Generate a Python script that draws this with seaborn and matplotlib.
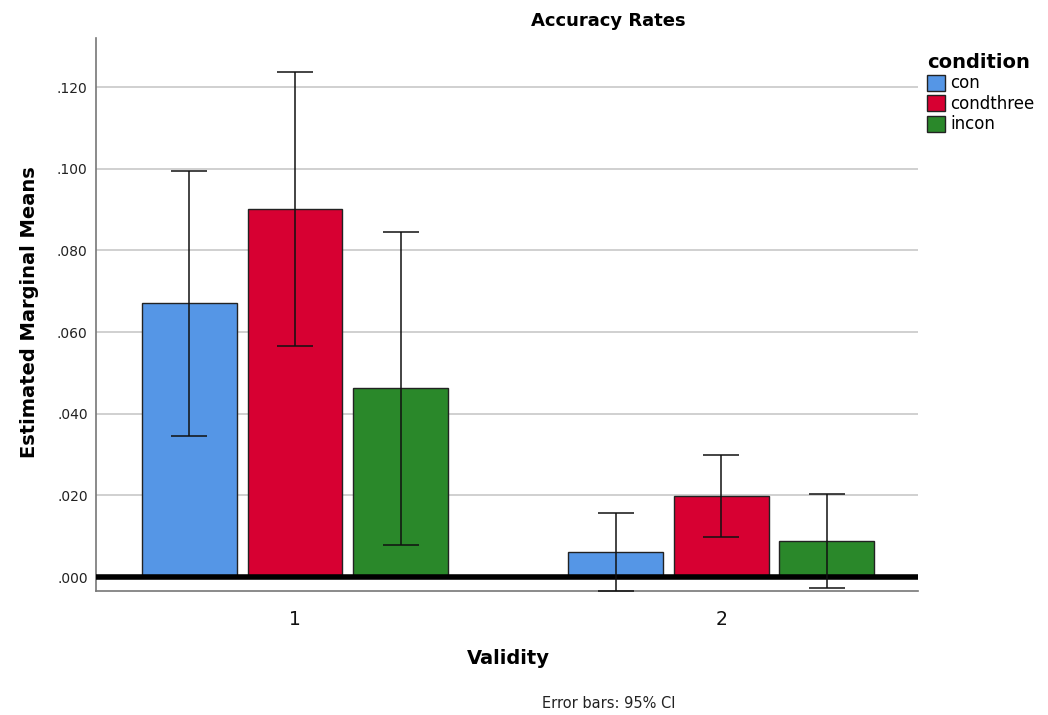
import matplotlib
matplotlib.use("Agg")
import matplotlib.pyplot as plt
import seaborn as sns
import pandas as pd
import numpy as np
from matplotlib.ticker import FuncFormatter
from matplotlib.patches import Patch

validity = ["1", "1", "1", "2", "2", "2"]
condition = ["con", "condthree", "incon", "con", "condthree", "incon"]
means = [0.0671, 0.0901, 0.0463, 0.0061, 0.0198, 0.0088]
ci_low = [0.0345, 0.0565, 0.0078, -0.0034, 0.0098, -0.0027]
ci_high = [0.0994, 0.1236, 0.0845, 0.0157, 0.0299, 0.0203]
hue_order = ["con", "condthree", "incon"]
colors = ["#5596E6", "#D70032", "#2A882A"]
yticks = [0.0, 0.02, 0.04, 0.06, 0.08, 0.10, 0.12]

df = pd.DataFrame({"Validity": validity, "condition": condition, "mean": means,
                   "lo": ci_low, "hi": ci_high})

sns.set_style("white")
plt.rcParams['font.family'] = ['DejaVu Sans']
plt.rcParams['text.color'] = 'black'

fig = plt.figure(figsize=(10.48, 7.15), dpi=100)
ax = fig.add_axes([96/1048, 1 - 591/715, (918-96)/1048, (591-38)/715])

pal = dict(zip(hue_order, colors))
sns.barplot(data=df, x="Validity", y="mean", hue="condition", hue_order=hue_order,
            palette=pal, width=0.743, gap=0.1, edgecolor="#222222", linewidth=1.0,
            errorbar=None, legend=False, ax=ax, saturation=1)

# error bars at bar centers
for cont, cond in zip(ax.containers, hue_order):
    sub = df[df["condition"] == cond]
    for patch, (_, row) in zip(cont.patches, sub.iterrows()):
        xc = patch.get_x() + patch.get_width() / 2
        ax.errorbar([xc], [row["mean"]],
                    yerr=[[row["mean"] - row["lo"]], [row["hi"] - row["mean"]]],
                    fmt="none", ecolor="#111111", elinewidth=1.1, capsize=13,
                    capthick=1.1, zorder=5)

ax.set_xlim(-0.467, 1.462)
ax.set_ylim(-0.0034, 0.132)
ax.set_yticks(yticks)
ax.yaxis.set_major_formatter(FuncFormatter(lambda v, p: f"{v:.3f}".replace("0.", ".", 1) if v >= 0 else f"{v:.3f}"))
ax.grid(axis="y", color="#c8c8c8", linewidth=1.2, zorder=0)
ax.set_axisbelow(True)
ax.axhline(0, color="black", linewidth=4, zorder=4)
for s in ["top", "right"]:
    ax.spines[s].set_visible(False)
ax.spines["left"].set_color("#777777")
ax.spines["bottom"].set_color("#777777")
ax.spines["left"].set_linewidth(1.2)
ax.spines["bottom"].set_linewidth(1.2)
ax.tick_params(axis="y", length=0, labelsize=10, colors="#222222", pad=6)
ax.tick_params(axis="x", length=0, labelsize=13.5, colors="#111111", pad=14)
ax.set_xlabel("")
ax.set_ylabel("")

fig.text(608/1048, 1 - 21/715, "Accuracy Rates", ha="center", va="center",
         fontsize=13, fontweight="bold", color="black")
fig.text(30/1048, 1 - 312/715, "Estimated Marginal Means", ha="center", va="center",
         rotation=90, fontsize=14, fontweight="bold", color="black")
fig.text(508/1048, 1 - 659/715, "Validity", ha="center", va="center",
         fontsize=14, fontweight="bold", color="black")
fig.text(609/1048, 1 - 703/715, "Error bars: 95% CI", ha="center", va="center",
         fontsize=10.5, color="#222222")

handles = [Patch(facecolor=c, edgecolor="#222222", linewidth=1.0) for c in colors]
leg = fig.legend(handles, hue_order, title="condition", loc="upper left",
                 bbox_to_anchor=(920/1048, 1 - 46/715), frameon=False,
                 fontsize=12, title_fontproperties={"weight": "bold", "size": 14},
                 handlelength=1.1, handleheight=1.1, handletextpad=0.3,
                 labelspacing=0.15, borderaxespad=0)
leg._legend_box.align = "left"

fig.savefig("out.png", dpi=100)
